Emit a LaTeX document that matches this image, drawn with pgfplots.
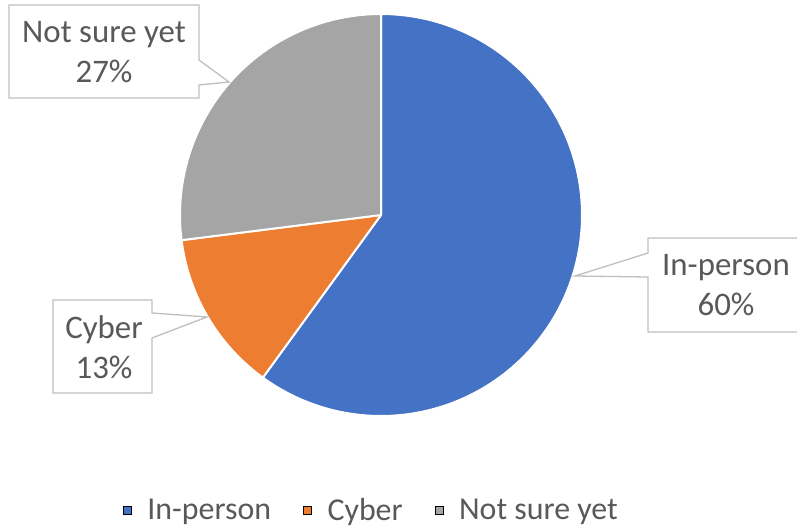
\documentclass[border=0pt]{standalone}
\usepackage{fontspec}
\setmainfont{Carlito}
\usepackage{pgfplots}
\usepackage{pgfplotstable}
\pgfplotsset{compat=1.18}
\definecolor{pieblue}{HTML}{4472C4}
\definecolor{pieorange}{HTML}{ED7D31}
\definecolor{piegray}{HTML}{A5A5A5}
\definecolor{boxgray}{HTML}{BFBFBF}
\definecolor{txtgray}{HTML}{595959}

\pgfplotstableread{
cat value
In-person 60
Cyber 13
Notsure 27
}\piedata

\begin{document}%
\begin{tikzpicture}
\pgfplotstablegetelem{0}{value}\of\piedata \edef\vA{\pgfplotsretval}
\pgfplotstablegetelem{1}{value}\of\piedata \edef\vB{\pgfplotsretval}
\pgfplotstablegetelem{2}{value}\of\piedata \edef\vC{\pgfplotsretval}
\pgfmathsetmacro{\aA}{90}
\pgfmathsetmacro{\aB}{90-3.6*\vA}
\pgfmathsetmacro{\aC}{\aB-3.6*\vB}
\pgfmathsetmacro{\aD}{\aC-3.6*\vC}
\begin{axis}[at={(0,0)}, anchor=south west, scale only axis,
  width=797bp, height=529bp, xmin=0, xmax=797, ymin=0, ymax=529,
  y dir=reverse, hide axis, clip=false,
  legend columns=3,
  legend image code/.code={\fill[#1] (0bp,-4bp) rectangle (8bp,4bp);},
  legend style={draw=none, fill=none, at={(0.466,0.035)}, anchor=center,
    font=\fontsize{32}{38}\selectfont, text=txtgray,
    /tikz/every odd column/.append style={column sep=14bp},
    /tikz/every even column/.append style={column sep=30bp}},
  legend cell align=left]
\addplot[fill=pieblue, draw=white, line width=2pt, line join=round, domain=\aB:\aA, samples=150, forget plot]
  ({381+201*cos(x)},{215-201*sin(x)}) -- (axis cs:381,215) -- cycle;
\addplot[fill=pieorange, draw=white, line width=2pt, line join=round, domain=\aC:\aB, samples=60, forget plot]
  ({381+201*cos(x)},{215-201*sin(x)}) -- (axis cs:381,215) -- cycle;
\addplot[fill=piegray, draw=white, line width=2pt, line join=round, domain=\aD:\aC, samples=100, forget plot]
  ({381+201*cos(x)},{215-201*sin(x)}) -- (axis cs:381,215) -- cycle;

\draw[boxgray, line width=1.3pt, fill=white, line join=miter]
  (axis cs:9,5) -- (axis cs:199,5) -- (axis cs:199,60) -- (axis cs:229,82) -- (axis cs:199,85) -- (axis cs:199,98) -- (axis cs:9,98) -- cycle;
\draw[boxgray, line width=1.3pt, fill=white, line join=miter]
  (axis cs:797,238) -- (axis cs:648,238) -- (axis cs:648,253) -- (axis cs:575,276) -- (axis cs:648,277) -- (axis cs:648,332) -- (axis cs:797,332);
\draw[boxgray, line width=1.3pt, fill=white, line join=miter]
  (axis cs:53,300) -- (axis cs:152,300) -- (axis cs:152,313) -- (axis cs:207,317) -- (axis cs:152,338) -- (axis cs:152,393) -- (axis cs:53,393) -- cycle;

\node[align=center, text=txtgray, font=\fontsize{33}{40}\selectfont] at (axis cs:104,52) {Not sure yet\\27\%};
\node[align=center, text=txtgray, font=\fontsize{33}{40}\selectfont] at (axis cs:726,285) {In-person\\60\%};
\node[align=center, text=txtgray, font=\fontsize{33}{40}\selectfont] at (axis cs:104,347) {Cyber\\13\%};

\addlegendimage{fill=pieblue}
\addlegendentry{In-person}
\addlegendimage{fill=pieorange}
\addlegendentry{Cyber}
\addlegendimage{fill=piegray}
\addlegendentry{Not sure yet}
\end{axis}
\pgfresetboundingbox
\useasboundingbox (0,0) rectangle (797bp,529bp);
\end{tikzpicture}%
\end{document}
